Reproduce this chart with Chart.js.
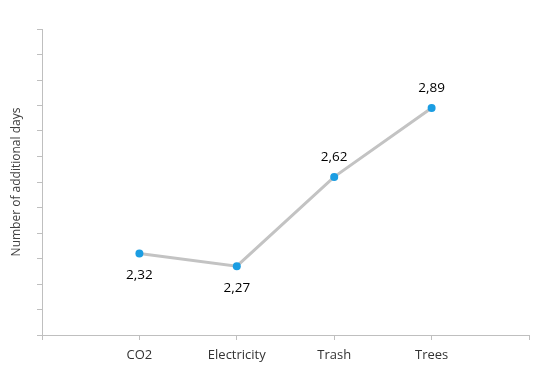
<!DOCTYPE html>
<html>
<head>
<meta charset="utf-8">
<script src="https://cdn.jsdelivr.net/npm/chart.js@4/dist/chart.umd.min.js"></script>
<style>
html,body{margin:0;padding:0;background:#fff;}
#wrap{width:558px;height:388px;position:relative;}
</style>
</head>
<body>
<div id="wrap"><canvas id="c" width="558" height="388"></canvas></div>
<script>
const categories = ["", "CO2", "Electricity", "Trash", "Trees", ""];
const values = [null, 2.32, 2.27, 2.62, 2.89, null];
const labelAbove = [false, false, false, true, true, false];
const yMin = 2.0, yMax = 3.2, yStep = 0.1;
const axisTitle = "Number of additional days";

const FONT = "'Open Sans', 'DejaVu Sans', sans-serif";

const valueLabels = {
  id: 'valueLabels',
  afterDatasetsDraw(chart) {
    const ctx = chart.ctx;
    const meta = chart.getDatasetMeta(0);
    ctx.save();
    ctx.font = "13.5px " + FONT;
    ctx.fillStyle = "#000000";
    ctx.textAlign = "center";
    ctx.textBaseline = "middle";
    meta.data.forEach((pt, i) => {
      const v = values[i];
      if (v === null || v === undefined) return;
      const txt = v.toFixed(2).replace('.', ',');
      const dy = labelAbove[i] ? -20 : 22;
      ctx.fillText(txt, pt.x, pt.y + dy);
    });
    ctx.restore();
  }
};

new Chart(document.getElementById('c'), {
  type: 'line',
  data: {
    labels: categories,
    datasets: [{
      data: values,
      borderColor: '#c3c3c3',
      borderWidth: 3,
      pointBackgroundColor: '#1b9de2',
      pointBorderColor: '#1b9de2',
      pointRadius: 4,
      pointBorderWidth: 0,
      tension: 0,
      spanGaps: false
    }]
  },
  options: {
    responsive: false,
    animation: false,
    devicePixelRatio: 1,
    layout: { padding: { top: 29, right: 29, left: 0, bottom: 0 } },
    plugins: { legend: { display: false }, tooltip: { enabled: false } },
    scales: {
      x: {
        type: 'category',
        offset: false,
        border: { display: true, color: '#bfbfbf', width: 1 },
        grid: { drawOnChartArea: false, drawTicks: true, tickLength: 5, color: '#bfbfbf' },
        ticks: { color: '#333333', font: { family: FONT, size: 13 }, padding: 7, maxRotation: 0, autoSkip: false },
        afterFit(s) { s.height = 53; }
      },
      y: {
        min: yMin, max: yMax,
        border: { display: true, color: '#bfbfbf', width: 1 },
        grid: { drawOnChartArea: false, drawTicks: true, tickLength: 5, color: '#bfbfbf' },
        ticks: { display: false, stepSize: yStep },
        title: { display: true, text: axisTitle, color: '#404040', font: { family: FONT, size: 12 }, padding: { top: 9, bottom: 0 } },
        afterFit(s) { s.width = 42; }
      }
    }
  },
  plugins: [valueLabels]
});
</script>
</body>
</html>
